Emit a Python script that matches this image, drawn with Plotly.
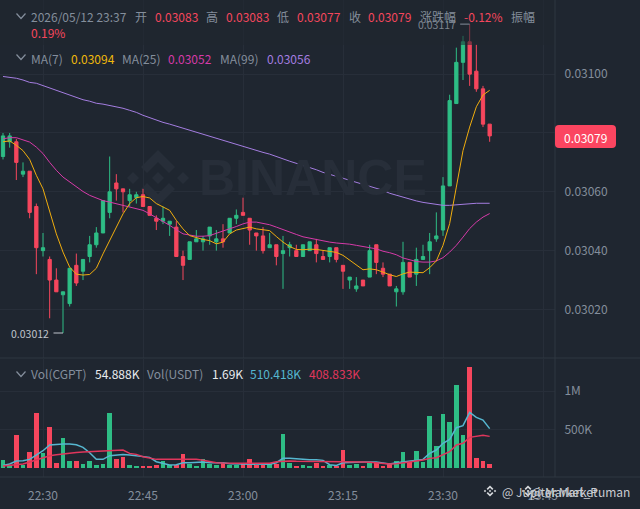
import pandas as pd
import plotly.graph_objs as go

BG = "#1f2630"
GRID = "#272e39"
BORDER = "#2f3641"
GRAY = "#848e9c"
UP = "#2ebd85"
DOWN = "#f6465d"
CJK = "Noto Sans CJK SC"

# candles, prices are in 0.00001 steps
opens = [3072, 3077, 3077, 3066, 3067, 3055, 3040, 3037, 3030, 3025,
         3022, 3035, 3033, 3038, 3042, 3046, 3053, 3063, 3061, 3057,
         3058, 3059, 3055, 3051, 3050, 3049, 3048, 3038, 3037, 3043,
         3043, 3045, 3043, 3044, 3046, 3051, 3053, 3051, 3046, 3045,
         3041, 3042, 3039, 3041, 3040, 3038, 3040, 3042, 3038, 3038,
         3041, 3035, 3030, 3027, 3030, 3031, 3042, 3034, 3032, 3026,
         3026, 3036, 3032, 3037, 3040, 3044, 3047, 3062, 3090, 3104,
         3111, 3101, 3095, 3083]
highs = [3080, 3080, 3078, 3070, 3067, 3056, 3046, 3038, 3034, 3026,
         3034, 3039, 3037, 3045, 3048, 3057, 3072, 3066, 3061, 3061,
         3060, 3061, 3055, 3052, 3055, 3050, 3050, 3040, 3043, 3047,
         3045, 3048, 3047, 3049, 3051, 3054, 3058, 3051, 3046, 3048,
         3046, 3042, 3045, 3043, 3042, 3042, 3043, 3044, 3040, 3041,
         3041, 3035, 3031, 3031, 3030, 3042, 3042, 3036, 3032, 3028,
         3043, 3036, 3041, 3042, 3046, 3053, 3065, 3093, 3109, 3113,
         3117, 3110, 3096, 3083]
lows = [3071, 3075, 3064, 3065, 3051, 3032, 3038, 3017, 3026, 3012,
        3021, 3028, 3030, 3036, 3041, 3046, 3051, 3057, 3053, 3055,
        3056, 3055, 3052, 3047, 3049, 3045, 3038, 3030, 3037, 3043,
        3040, 3042, 3040, 3041, 3046, 3049, 3052, 3042, 3040, 3039,
        3041, 3035, 3027, 3038, 3038, 3038, 3040, 3036, 3037, 3036,
        3036, 3027, 3027, 3026, 3028, 3031, 3032, 3031, 3028, 3021,
        3025, 3031, 3028, 3037, 3032, 3043, 3045, 3062, 3090, 3098,
        3096, 3094, 3082, 3077]
closes = [3079, 3079, 3070, 3067, 3053, 3041, 3041, 3030, 3026, 3026,
          3034, 3029, 3037, 3042, 3046, 3057, 3060, 3061, 3060, 3059,
          3059, 3055, 3052, 3050, 3051, 3050, 3038, 3035, 3043, 3044,
          3044, 3048, 3044, 3043, 3051, 3052, 3052, 3047, 3045, 3040,
          3042, 3038, 3040, 3042, 3038, 3042, 3043, 3039, 3037, 3041,
          3037, 3033, 3031, 3028, 3028, 3040, 3036, 3032, 3028, 3027,
          3036, 3031, 3037, 3038, 3043, 3045, 3062, 3091, 3104, 3111,
          3100, 3095, 3083, 3079]

ma7 = [3077.0, 3077.3, 3075.8, 3074.0, 3071.0, 3065.6, 3061.0, 3053.0, 3045.7, 3039.5,
       3034.4, 3032.0, 3031.7, 3031.9, 3034.0, 3038.9, 3043.4, 3048.0, 3052.5, 3056.0,
       3058.0, 3058.4, 3057.9, 3056.0, 3054.8, 3053.7, 3050.3, 3047.4, 3045.1, 3044.4,
       3043.8, 3043.4, 3042.3, 3042.9, 3045.7, 3047.0, 3047.6, 3048.0, 3047.4, 3047.0,
       3046.8, 3044.8, 3042.9, 3041.4, 3040.4, 3040.3, 3040.5, 3040.4, 3040.0, 3039.8,
       3039.4, 3038.4, 3036.7, 3035.0, 3033.5, 3033.8, 3033.5, 3032.7, 3031.8, 3031.2,
       3032.1, 3032.7, 3032.5, 3032.5, 3034.2, 3036.5, 3041.8, 3049.2, 3061.6, 3074.0,
       3082.0, 3088.9, 3092.9, 3094.5]
ma25 = [3078.0, 3078.4, 3078.4, 3077.7, 3076.9, 3075.2, 3073.0, 3070.0, 3067.3, 3065.0,
        3063.3, 3061.6, 3060.1, 3058.8, 3057.9, 3057.0, 3056.5, 3055.9, 3055.4, 3054.8,
        3054.2, 3053.7, 3052.5, 3051.2, 3050.0, 3048.6, 3047.1, 3045.7, 3045.3, 3044.9,
        3044.9, 3045.1, 3045.9, 3046.6, 3047.4, 3048.2, 3049.1, 3049.7, 3049.7, 3049.3,
        3048.8, 3048.0, 3047.1, 3046.3, 3045.5, 3044.7, 3044.2, 3043.7, 3043.2, 3042.9,
        3042.6, 3042.5, 3042.2, 3041.8, 3041.3, 3041.0, 3040.6, 3039.8, 3039.3, 3038.6,
        3037.5, 3036.8, 3036.3, 3036.1, 3036.1, 3036.5, 3037.6, 3039.5, 3041.8, 3044.6,
        3047.5, 3049.7, 3051.4, 3052.6]
ma99 = [3099.2, 3099.0, 3098.6, 3098.0, 3097.2, 3096.9, 3096.1, 3095.2, 3094.4, 3093.5,
        3092.9, 3092.0, 3091.3, 3090.8, 3090.1, 3089.8, 3089.4, 3088.9, 3088.4, 3087.7,
        3087.0, 3086.0, 3085.2, 3084.3, 3083.6, 3083.0, 3082.3, 3081.6, 3080.9, 3080.2,
        3079.6, 3078.9, 3078.2, 3077.5, 3076.9, 3076.2, 3075.5, 3074.8, 3074.1, 3073.4,
        3072.8, 3072.1, 3071.2, 3070.4, 3069.7, 3069.0, 3068.3, 3067.5, 3066.6, 3066.0,
        3065.3, 3064.6, 3063.9, 3063.2, 3062.4, 3061.9, 3061.0, 3060.5, 3059.5, 3058.8,
        3058.1, 3057.4, 3056.9, 3056.4, 3056.1, 3055.6, 3055.4, 3055.4, 3055.6, 3055.7,
        3055.9, 3056.1, 3056.1, 3056.1]

# volume in thousands
volumes = [100, 35, 426, 35, 209, 709, 187, 526, 65, 383,
           91, 83, 48, 83, 30, 44, 709, 109, 144, 30,
           22, 22, 26, 30, 83, 30, 30, 174, 48, 22,
           109, 48, 35, 57, 35, 30, 65, 109, 39, 39,
           44, 48, 439, 65, 22, 35, 17, 65, 22, 35,
           22, 231, 35, 48, 17, 57, 57, 17, 57, 83,
           204, 70, 218, 78, 674, 283, 696, 600, 1074, 426,
           1309, 130, 87, 54.888]
vol_ma1 = [30, 48, 87, 91, 109, 165, 222, 296, 305, 309,
           309, 300, 265, 196, 109, 109, 157, 165, 174, 165,
           157, 148, 135, 78, 57, 35, 39, 65, 65, 70,
           74, 65, 65, 65, 52, 52, 52, 52, 48, 44,
           44, 65, 122, 122, 113, 104, 104, 104, 96, 39,
           30, 65, 70, 74, 74, 74, 74, 61, 48, 65,
           78, 87, 96, 109, 187, 231, 318, 370, 522, 548,
           722, 657, 622, 510.418]
vol_ma2 = [22, 30, 39, 48, 74, 100, 126, 157, 170, 183,
           191, 200, 204, 209, 209, 213, 222, 231, 231, 187,
           174, 144, 131, 109, 109, 109, 109, 113, 113, 109,
           96, 78, 65, 61, 57, 57, 57, 57, 57, 57,
           57, 78, 87, 87, 83, 83, 78, 78, 74, 74,
           74, 74, 74, 74, 74, 70, 61, 52, 48, 52,
           61, 74, 87, 100, 122, 131, 165, 209, 296, 318,
           396, 413, 422, 408.833]

price_ticks = [3020, 3040, 3060, 3080, 3100]
vol_ticks = [500, 1000]
vol_tick_labels = ["500K", "1M"]

times = pd.date_range("2026-05-12 22:24", periods=len(closes), freq="min")


def price(vals):
    return [v / 100000 for v in vals]


W = 640
H = 509
PLOT_W = 555
PLOT_H = 477


# page pixels to paper coordinates, for the overlay texts and decoration
def px(x):
    return x / PLOT_W


def py(y):
    return (PLOT_H - y) / PLOT_H


def poly(points):
    return "M " + " L ".join(f"{px(x)} {py(y)}" for x, y in points) + " Z"


# annotation boxes carry about 2px of padding, taken off here on the left
def label(x, y, text, color=GRAY, size=12, anchor="left"):
    shift = -2 if anchor == "left" else 0
    return dict(xref="paper", yref="paper", x=px(x), y=py(y), text=text, showarrow=False, xshift=shift,
                xanchor=anchor, yanchor="middle", font=dict(family=CJK, size=size, color=color))


def chevron(x, y):
    return dict(type="path", xref="paper", yref="paper", line=dict(color=GRAY, width=1.2),
                path=f"M {px(x - 4.5)} {py(y - 2.5)} L {px(x)} {py(y + 2.5)} L {px(x + 4.5)} {py(y - 2.5)}")


def logo_paths(cx, cy, k):
    top = [(0, -28), (17, -11), (11, -5), (0, -16), (-11, -5), (-17, -11)]
    paths = [poly([(cx + a * k, cy + b * k) for a, b in top]),
             poly([(cx + a * k, cy - b * k) for a, b in top])]
    for dx in (-25, 0, 25):
        paths.append(poly([(cx + (dx - 6) * k, cy), (cx + dx * k, cy - 6 * k),
                           (cx + (dx + 6) * k, cy), (cx + dx * k, cy + 6 * k)]))
    return paths


traces = [
    go.Candlestick(x=times, open=price(opens), high=price(highs), low=price(lows), close=price(closes),
                   increasing=dict(line=dict(color=UP, width=1), fillcolor=UP),
                   decreasing=dict(line=dict(color=DOWN, width=1), fillcolor=DOWN),
                   xaxis="x", yaxis="y"),
    go.Scatter(x=times, y=price(ma99), mode="lines", line=dict(color="#a47de0", width=1), xaxis="x", yaxis="y"),
    go.Scatter(x=times, y=price(ma25), mode="lines", line=dict(color="#d63aa8", width=1), xaxis="x", yaxis="y"),
    go.Scatter(x=times, y=price(ma7), mode="lines", line=dict(color="#f0ad0e", width=1), xaxis="x", yaxis="y"),
    go.Bar(x=times, y=volumes, width=42000,
           marker=dict(color=[UP if c >= o else DOWN for o, c in zip(opens, closes)], line=dict(width=0)),
           xaxis="x2", yaxis="y2"),
    go.Scatter(x=times, y=vol_ma1, mode="lines", line=dict(color="#56b7d0", width=1.5), xaxis="x2", yaxis="y2"),
    go.Scatter(x=times, y=vol_ma2, mode="lines", line=dict(color="#e0365c", width=1.5), xaxis="x2", yaxis="y2"),
]

x_range = [pd.Timestamp("2026-05-12 22:23:33"), pd.Timestamp("2026-05-12 23:46:48")]
x_common = dict(range=x_range, type="date", tickformat="%H:%M", dtick=900000,
                tick0="2026-05-12 22:30:00", gridcolor=GRID, gridwidth=1, zeroline=False, showline=False,
                rangeslider=dict(visible=False))

shapes = [
    dict(type="path", path=p, xref="paper", yref="paper", fillcolor="#272e39", line=dict(width=0), layer="below")
    for p in logo_paths(158, 178, 1.0)
]
shapes += [
    # header panel dims whatever runs under it
    dict(type="rect", xref="paper", yref="paper", x0=0, x1=px(PLOT_W), y0=py(45), y1=1,
         fillcolor="rgba(31,38,48,0.55)", line=dict(width=0)),
    dict(type="line", xref="paper", yref="paper", x0=0, x1=px(W), y0=py(358), y1=py(358),
         line=dict(color=BORDER, width=1)),
    dict(type="line", xref="paper", yref="paper", x0=0, x1=px(W), y0=py(477), y1=py(477),
         line=dict(color=BORDER, width=1)),
    dict(type="line", xref="paper", yref="paper", x0=1, x1=1, y0=0, y1=1,
         line=dict(color=BORDER, width=1)),
    chevron(21, 16),
    chevron(21, 57),
    chevron(21, 374),
    # last price tag
    dict(type="path", xref="paper", yref="paper", fillcolor="#fb4560", line=dict(width=0),
         path=(f"M {px(559)} {py(125)} L {px(612)} {py(125)} Q {px(616)} {py(125)} {px(616)} {py(129)} "
               f"L {px(616)} {py(144)} Q {px(616)} {py(148)} {px(612)} {py(148)} "
               f"L {px(559)} {py(148)} Q {px(555)} {py(148)} {px(555)} {py(144)} "
               f"L {px(555)} {py(129)} Q {px(555)} {py(125)} {px(559)} {py(125)} Z")),
]
for p in logo_paths(490, 491, 0.2):
    shapes.append(dict(type="path", path=p, xref="paper", yref="paper", fillcolor="#d5d8dc", line=dict(width=0)))
for p in logo_paths(528, 491, 0.2):
    shapes.append(dict(type="path", path=p, xref="paper", yref="paper", fillcolor="#d5d8dc", line=dict(width=0)))

annotations = [
    dict(xref="paper", yref="paper", x=px(197), y=py(178), text="<b>BINANCE</b>", showarrow=False,
         xanchor="left", yanchor="middle", font=dict(family="Liberation Sans", size=50, color="#272e39")),
    label(31, 16, "2026/05/12 23:37"),
    label(135, 16, "开"), label(155, 16, "0.03083", DOWN),
    label(206, 16, "高"), label(226, 16, "0.03083", DOWN),
    label(277, 16, "低"), label(297, 16, "0.03077", DOWN),
    label(349, 16, "收"), label(368, 16, "0.03079", DOWN),
    label(420, 16, "涨跌幅"), label(464, 16, "-0.12%", DOWN),
    label(511, 16, "振幅"),
    label(31, 33, "0.19%", DOWN),
    label(31, 58, "MA(7)"), label(71, 58, "0.03094", "#f0b90b"),
    label(122, 58, "MA(25)"), label(168, 58, "0.03052", "#d63aa8"),
    label(220, 58, "MA(99)"), label(267, 58, "0.03056", "#a47de0"),
    label(31, 373, "Vol(CGPT)"), label(95, 373, "54.888K", "#eaecef"),
    label(147, 373, "Vol(USDT)"), label(212, 373, "1.69K", "#eaecef"),
    label(250, 373, "510.418K", "#56b7d0"), label(309, 373, "408.833K", "#e0365c"),
    dict(xref="x", yref="y", x=times[70], y=max(highs) / 100000, text="0.03117", showarrow=True,
         arrowhead=0, arrowcolor="#848e9c", arrowwidth=1, ax=-33, ay=0, borderpad=4,
         font=dict(family=CJK, size=10.5, color="#7d8590")),
    dict(xref="x", yref="y", x=times[9], y=min(lows) / 100000, text="0.03012", showarrow=True,
         arrowhead=0, arrowcolor="#c0c4cc", arrowwidth=1, ax=-33, ay=0, borderpad=4,
         font=dict(family=CJK, size=10.5, color="#c0c4cc")),
    label(585.5, 137, "0.03079", "#ffffff", anchor="center"),
    label(502, 491, "@ Jupiter Market", "#c9ccd1"),
    label(632, 491, "@ Market_Puman", "#c9ccd1", anchor="right"),
]

layout = go.Layout(
    width=W, height=H, autosize=False, showlegend=False, bargap=0,
    paper_bgcolor=BG, plot_bgcolor=BG,
    margin=dict(l=0, r=W - PLOT_W, t=0, b=H - PLOT_H, pad=0),
    font=dict(family=CJK, size=12, color=GRAY),
    xaxis=dict(domain=[0, 1], anchor="y", showticklabels=False, ticks="", **x_common),
    yaxis=dict(domain=[py(358), 1], anchor="x", side="right", range=[0.030035, 0.031252],
               tickvals=price(price_ticks), tickformat=".5f", gridcolor=GRID, zeroline=False,
               ticks="outside", ticklen=6, tickcolor="rgba(0,0,0,0)"),
    xaxis2=dict(domain=[0, 1], anchor="y2", ticks="outside", ticklen=8, tickcolor="rgba(0,0,0,0)", **x_common),
    yaxis2=dict(domain=[0, py(359)], anchor="x2", side="right", range=[-121, 1418],
                tickvals=vol_ticks, ticktext=vol_tick_labels, gridcolor=GRID, zeroline=False,
                ticks="outside", ticklen=6, tickcolor="rgba(0,0,0,0)"),
    shapes=shapes, annotations=annotations,
)

fig = go.Figure(data=traces, layout=layout)
fig.write_html("out.html", config=dict(displayModeBar=False),
               post_script="document.body.style.margin='0';")
